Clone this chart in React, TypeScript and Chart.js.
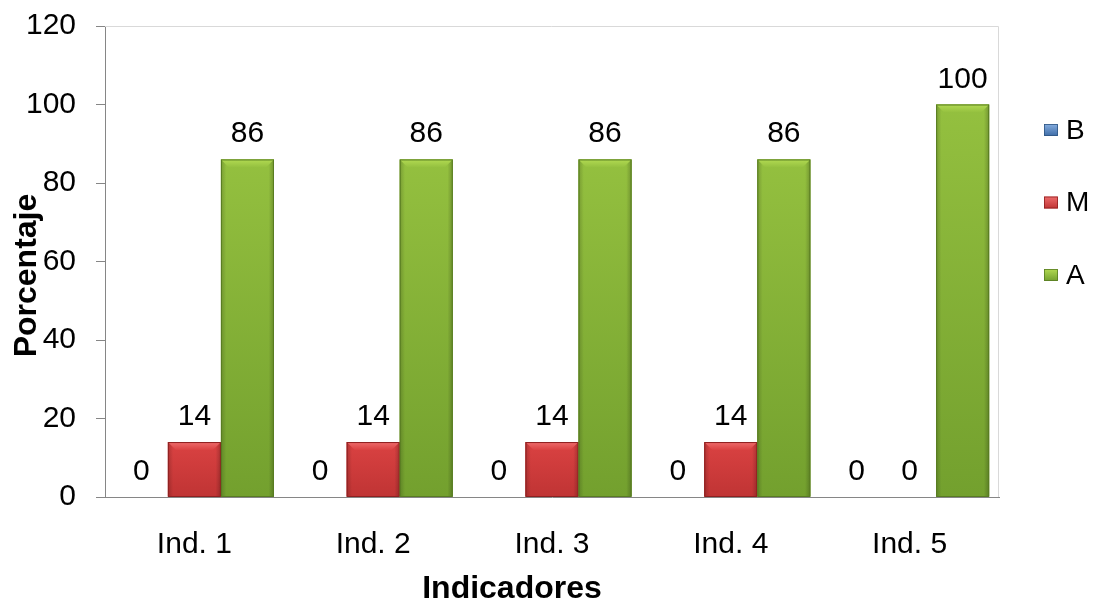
import React, { useEffect, useRef } from "react";
import { Chart, registerables } from "chart.js";

Chart.register(...registerables);

// Indicator categories and percentage per level (B = bajo, M = medio, A = alto)
const categories = ["Ind. 1", "Ind. 2", "Ind. 3", "Ind. 4", "Ind. 5"];
const seriesNames = ["B", "M", "A"];
const valuesB = [0, 0, 0, 0, 0];
const valuesM = [14, 14, 14, 14, 0];
const valuesA = [86, 86, 86, 86, 100];
const yTickValues = [0, 20, 40, 60, 80, 100, 120];
const xTitle = "Indicadores";
const yTitle = "Porcentaje";

const FONT = "'Liberation Sans', Arial, Helvetica, sans-serif";

// Shades used for the bevelled bar faces
const shades = [
  { face: "#5285c4", top: "#86aee0", dark: "#3d6ba6", edge: "#2f5582" },
  { face: "#da4242", top: "#ee6c6c", dark: "#c03434", edge: "#8e2020" },
  { face: "#94c03f", top: "#b2da52", dark: "#73a02e", edge: "#587c22" },
];

const plotFrame = {
  id: "plotFrame",
  beforeDatasetsDraw(chart: any) {
    const { ctx, chartArea: a } = chart;
    ctx.save();
    ctx.strokeStyle = "#d9d9d9";
    ctx.lineWidth = 1;
    ctx.beginPath();
    ctx.moveTo(a.left, a.top + 0.5);
    ctx.lineTo(a.right - 0.5, a.top + 0.5);
    ctx.lineTo(a.right - 0.5, a.bottom);
    ctx.stroke();
    ctx.restore();
  },
};

const bevelBars = {
  id: "bevelBars",
  afterDatasetsDraw(chart: any) {
    const ctx = chart.ctx;
    ctx.save();
    chart.data.datasets.forEach((ds: any, di: number) => {
      const meta = chart.getDatasetMeta(di);
      const pal = shades[di];
      meta.data.forEach((bar: any) => {
        const { x, y, base, width } = bar.getProps(["x", "y", "base", "width"], true);
        const h = base - y;
        if (h < 1) return;
        const l = x - width / 2;
        const r = x + width / 2;
        const b = Math.min(8, h / 2);

        const g = ctx.createLinearGradient(0, y, 0, base);
        g.addColorStop(0, pal.face);
        g.addColorStop(1, pal.dark);
        ctx.fillStyle = g;
        ctx.fillRect(l, y, width, h);

        const sg = ctx.createLinearGradient(l, 0, r, 0);
        sg.addColorStop(0, "rgba(0,0,0,0.18)");
        sg.addColorStop(0.1, "rgba(0,0,0,0)");
        sg.addColorStop(0.9, "rgba(0,0,0,0)");
        sg.addColorStop(1, "rgba(0,0,0,0.22)");
        ctx.fillStyle = sg;
        ctx.fillRect(l, y, width, h);

        ctx.beginPath();
        ctx.moveTo(l, y);
        ctx.lineTo(r, y);
        ctx.lineTo(r - b, y + b);
        ctx.lineTo(l + b, y + b);
        ctx.closePath();
        const tg = ctx.createLinearGradient(0, y, 0, y + b);
        tg.addColorStop(0, pal.top);
        tg.addColorStop(1, pal.face);
        ctx.fillStyle = tg;
        ctx.fill();

        ctx.strokeStyle = pal.edge;
        ctx.lineWidth = 1;
        ctx.strokeRect(l + 0.5, y + 0.5, width - 1, h - 0.5);
      });
    });
    ctx.restore();
  },
};

const valueLabels = {
  id: "valueLabels",
  afterDatasetsDraw(chart: any) {
    const ctx = chart.ctx;
    ctx.save();
    ctx.font = `30px ${FONT}`;
    ctx.fillStyle = "#000";
    ctx.textAlign = "center";
    ctx.textBaseline = "alphabetic";
    chart.data.datasets.forEach((ds: any, di: number) => {
      const meta = chart.getDatasetMeta(di);
      meta.data.forEach((bar: any, i: number) => {
        const { x, y } = bar.getProps(["x", "y"], true);
        ctx.fillText(String(ds.data[i]), x, y - 17);
      });
    });
    ctx.restore();
  },
};

// Axis titles, placed the way the spreadsheet chart lays them out
const axisTitles = {
  id: "axisTitles",
  afterDraw(chart: any) {
    const { ctx, chartArea: a } = chart;
    ctx.save();
    ctx.font = `bold 32px ${FONT}`;
    ctx.fillStyle = "#000";
    ctx.textAlign = "center";
    ctx.textBaseline = "middle";
    ctx.fillText(xTitle, (a.left + a.right) / 2 - 40, chart.height - 19);
    ctx.translate(27, (a.top + a.bottom) / 2 + 14);
    ctx.rotate(-Math.PI / 2);
    ctx.fillText(yTitle, 0, 0);
    ctx.restore();
  },
};

const sideLegend = {
  id: "sideLegend",
  afterDraw(chart: any) {
    const { ctx, chartArea: a } = chart;
    ctx.save();
    ctx.font = `28px ${FONT}`;
    ctx.fillStyle = "#000";
    ctx.textBaseline = "middle";
    chart.data.datasets.forEach((ds: any, di: number) => {
      const pal = shades[di];
      const cy = a.top + 104 + di * 72.5;
      const bx = a.right + 45;
      const g = ctx.createLinearGradient(0, cy - 6, 0, cy + 6);
      g.addColorStop(0, pal.top);
      g.addColorStop(1, pal.dark);
      ctx.fillStyle = g;
      ctx.fillRect(bx, cy - 6, 14, 12);
      ctx.strokeStyle = pal.edge;
      ctx.lineWidth = 0.8;
      ctx.strokeRect(bx + 0.5, cy - 5.5, 13, 11);
      ctx.fillStyle = "#000";
      ctx.fillText(ds.label, bx + 22, cy + 1);
    });
    ctx.restore();
  },
};

export default function App() {
  const canvasRef = useRef<HTMLCanvasElement | null>(null);

  useEffect(() => {
    const canvas = canvasRef.current;
    if (!canvas) return;
    Chart.defaults.font.family = FONT;
    Chart.defaults.color = "#000";

    const chart = new Chart(canvas, {
      type: "bar",
      data: {
        labels: categories,
        datasets: [
          { label: seriesNames[0], data: valuesB, backgroundColor: shades[0].face },
          { label: seriesNames[1], data: valuesM, backgroundColor: shades[1].face },
          { label: seriesNames[2], data: valuesA, backgroundColor: shades[2].face },
        ],
      },
      options: {
        responsive: false,
        animation: false,
        events: [],
        layout: { padding: { top: 26, right: 100, left: 0, bottom: 0 } },
        datasets: {
          bar: { categoryPercentage: 0.89, barPercentage: 1 },
        },
        plugins: {
          legend: { display: false },
          tooltip: { enabled: false },
        },
        scales: {
          x: {
            grid: { display: false, drawTicks: false },
            border: { display: true, color: "#868686", width: 1 },
            ticks: { font: { size: 30 }, color: "#000", padding: 30 },
            afterFit: (s: any) => {
              s.height = 111;
            },
          },
          y: {
            min: 0,
            max: 120,
            afterBuildTicks: (s: any) => {
              s.ticks = yTickValues.map((v) => ({ value: v }));
            },
            grid: {
              display: true,
              drawOnChartArea: false,
              drawTicks: true,
              tickLength: 9,
              color: "#868686",
            },
            border: { display: true, color: "#868686", width: 1 },
            ticks: { font: { size: 30 }, color: "#000", padding: 20 },
            afterFit: (s: any) => {
              s.width = 105;
              s.paddingTop = 0;
              s.paddingBottom = 0;
            },
          },
        },
      },
      plugins: [plotFrame, bevelBars, valueLabels, axisTitles, sideLegend],
    });

    return () => chart.destroy();
  }, []);

  return (
    <div style={{ position: "absolute", left: 0, top: 0, width: 1099, height: 608, background: "#fff" }}>
      <canvas ref={canvasRef} width={1099} height={608} style={{ display: "block" }} />
    </div>
  );
}
